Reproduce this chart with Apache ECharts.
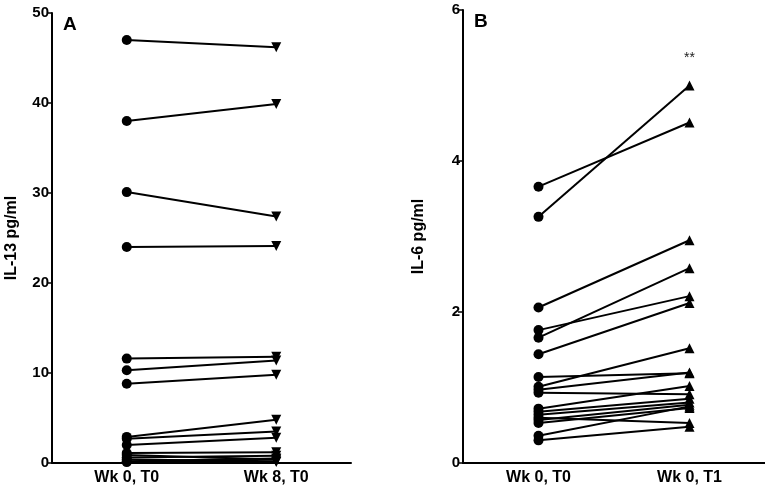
<!DOCTYPE html>
<html>
<head>
<meta charset="utf-8">
<script src="https://cdn.jsdelivr.net/npm/echarts@6/dist/echarts.min.js"></script>
<style>
html,body{margin:0;padding:0;background:#fff;}
#main{width:765px;height:493px;}
</style>
</head>
<body>
<div id="main"></div>
<script>
// 分类
var catsA = ['Wk 0, T0', 'Wk 8, T0'];
var catsB = ['Wk 0, T0', 'Wk 0, T1'];
// A: IL-13 每个受试者前后值
var il13Pre  = [47.0, 38.0, 30.1, 24.0, 11.6, 10.3, 8.8, 2.9, 2.7, 2.0, 1.1, 0.9, 0.6, 0.4, 0.2, 0.1];
var il13Post = [46.2, 39.9, 27.4, 24.1, 11.8, 11.4, 9.8, 4.8, 3.5, 2.8, 1.2, 0.4, 0.8, 0.2, 0.5, 0.1];
// B: IL-6
var il6Pre  = [3.66, 3.26, 2.06, 1.76, 1.66, 1.44, 1.14, 1.01, 0.97, 0.93, 0.72, 0.68, 0.64, 0.60, 0.57, 0.53, 0.36, 0.30];
var il6Post = [4.51, 5.00, 2.95, 2.21, 2.58, 2.12, 1.19, 1.52, 1.20, 0.91, 1.02, 0.85, 0.80, 0.53, 0.77, 0.73, 0.75, 0.48];
var ticksA = [0, 10, 20, 30, 40, 50];
var ticksB = [0, 2, 4, 6];

var font = 'Liberation Sans, Arial, sans-serif';
var chart = echarts.init(document.getElementById('main'));

function pairSeries(pre, post, idx, rot) {
    var list = [];
    for (var i = 0; i < pre.length; i++) {
        list.push({
            type: 'line',
            xAxisIndex: idx,
            yAxisIndex: idx,
            silent: true,
            lineStyle: {color: '#000', width: 2},
            itemStyle: {color: '#000'},
            data: [
                {value: pre[i], symbol: 'circle', symbolSize: 10},
                {value: post[i], symbol: 'triangle', symbolSize: 10, symbolRotate: rot}
            ]
        });
    }
    return list;
}

function xAx(cats, idx) {
    return {
        type: 'category',
        gridIndex: idx,
        data: cats,
        axisLine: {lineStyle: {color: '#000', width: 2}},
        axisTick: {alignWithLabel: true, length: 5, lineStyle: {color: '#000', width: 1.5}},
        axisLabel: {color: '#000', fontFamily: font, fontWeight: 'bold', fontSize: 16, margin: 7}
    };
}

function yAx(name, max, interval, idx, gap) {
    return {
        type: 'value',
        gridIndex: idx,
        min: 0,
        max: max,
        interval: interval,
        name: name,
        nameLocation: 'middle',
        nameGap: gap,
        nameTextStyle: {color: '#000', fontFamily: font, fontWeight: 'bold', fontSize: 16},
        splitLine: {show: false},
        axisLine: {show: true, lineStyle: {color: '#000', width: 2}},
        axisTick: {show: true, length: 5, lineStyle: {color: '#000', width: 1.5}},
        axisLabel: {color: '#000', fontFamily: font, fontWeight: 'bold', fontSize: 15, margin: 3}
    };
}

var option = {
    animation: false,
    grid: [
        {left: 52, top: 13, width: 299, height: 450},
        {left: 463, top: 10, width: 304, height: 453}
    ],
    xAxis: [xAx(catsA, 0), xAx(catsB, 1)],
    yAxis: [
        yAx('IL-13 pg/ml', ticksA[ticksA.length - 1], ticksA[1] - ticksA[0], 0, 32),
        yAx('IL-6 pg/ml', ticksB[ticksB.length - 1], ticksB[1] - ticksB[0], 1, 36)
    ],
    graphic: [
        {type: 'text', left: 63, top: 15, style: {text: 'A', fill: '#000', font: 'bold 19px ' + font}},
        {type: 'text', left: 474, top: 12, style: {text: 'B', fill: '#000', font: 'bold 19px ' + font}},
        {type: 'text', left: 684, top: 51, style: {text: '**', fill: '#222', font: '14px ' + font}}
    ],
    series: pairSeries(il13Pre, il13Post, 0, 180).concat(pairSeries(il6Pre, il6Post, 1, 0))
};
chart.setOption(option);
</script>
</body>
</html>
